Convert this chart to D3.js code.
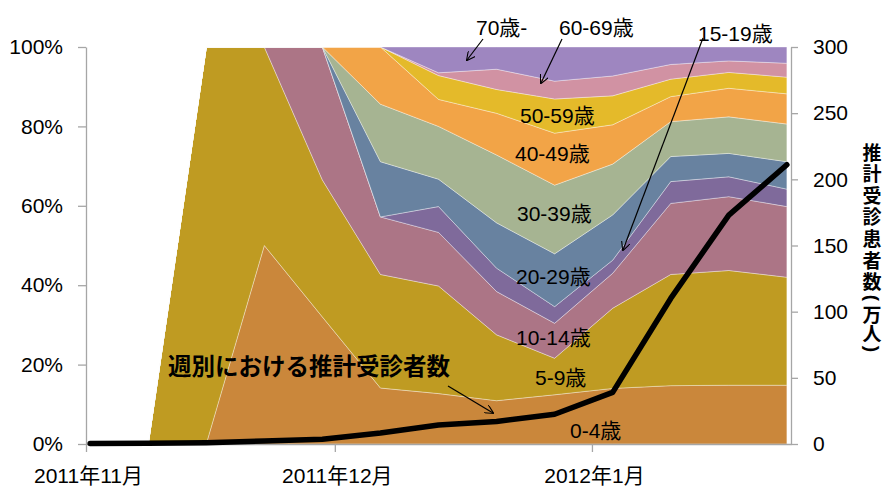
<!DOCTYPE html>
<html>
<head>
<meta charset="utf-8">
<script src="https://cdn.jsdelivr.net/npm/d3@7"></script>
<style>
body { margin: 0; background: #fff; }
svg text { font-family: 'Liberation Sans', 'Noto Sans CJK JP', sans-serif; fill: #000; }
</style>
</head>
<body>
<svg id="chart" width="884" height="489"></svg>
<script>
// 週ごとの日付 (weekly points)
var weeks = ["2011-11-01","2011-11-08","2011-11-15","2011-11-22","2011-11-29","2011-12-06",
             "2011-12-13","2011-12-20","2011-12-27","2012-01-03","2012-01-10","2012-01-17","2012-01-24"];
var ageGroups = ["0-4歳","5-9歳","10-14歳","15-19歳","20-29歳","30-39歳","40-49歳","50-59歳","60-69歳","70歳-"];
var ageColors = ["#CA873B","#BF9B22","#AC7586","#7F6A9B","#6882A0","#A6B492","#F2A447","#E4BA2A","#D192A3","#9E86C0"];

// 年齢別の割合 (%)
var age0_4   = [0,0,0,50,32,14.1,12.7,10.9,12.4,14.0,14.7,14.8,14.8];
var age5_9   = [0,0,100,50,34.5,28.6,27.1,16.6,9.2,20.2,28.0,28.9,27.2];
var age10_14 = [0,0,0,0,33.5,14.5,13.5,10.9,8.8,8.8,17.9,18.6,17.8];
var age15_19 = [0,0,0,0,0,0,6.5,5.9,4.2,3.3,5.5,5.0,4.4];
var age20_29 = [0,0,0,0,0,13.9,6.9,11.4,13.3,11.4,6.3,5.9,6.9];
var age30_39 = [0,0,0,0,0,14.5,13.3,17.1,17.3,12.8,8.8,9.2,9.5];
var age40_49 = [0,0,0,0,0,14.4,6.8,10.5,13.1,9.9,6.3,7.2,7.6];
var age50_59 = [0,0,0,0,0,0,6.0,6.0,8.6,7.3,4.4,4.0,4.2];
var age60_69 = [0,0,0,0,0,0,0.7,5.1,4.5,5.0,3.7,2.9,3.5];
var age70    = [0,0,0,0,0,0,6.5,5.6,8.6,7.3,4.4,3.5,4.1];

// 週別における推計受診者数 (万人)
var patients = [0.3,0.5,1.0,2.2,3.6,8.3,14.4,17,22.5,39,110,173,211];

var pctTicks = [0,0.2,0.4,0.6,0.8,1];
var numTicks = [0,50,100,150,200,250,300];
var monthTicks = ["2011-11-01","2011-12-01","2012-01-01"];
var rightTitle = ["推","計","受","診","患","者","数","(","万","人",")"];

var shares = [age0_4,age5_9,age10_14,age15_19,age20_29,age30_39,age40_49,age50_59,age60_69,age70];

var svg = d3.select("#chart");
var parseDay = d3.timeParse("%Y-%m-%d");
var dates = weeks.map(parseDay);

var x = d3.scaleTime().domain([new Date(2011,10,1), new Date(2012,0,25)]).range([86,791]);
var yPct = d3.scaleLinear().domain([0,1]).range([444,47]);
var yNum = d3.scaleLinear().domain([0,300]).range([444,47]);
function xMid(d) { return x(d3.timeHour.offset(d,12)); } // 日の中央に置く

var rows = dates.map(function(d,i){
  var r = {date: d};
  ageGroups.forEach(function(k,j){ r[k] = shares[j][i]; });
  return r;
});
var series = d3.stack().keys(ageGroups).offset(d3.stackOffsetExpand)(rows);

var area = d3.area()
  .x(function(d){ return xMid(d.data.date); })
  .y0(function(d){ return yPct(d[0]); })
  .y1(function(d){ return yPct(d[1]); });

svg.append("g").selectAll("path")
  .data(series)
  .enter().append("path")
  .attr("d", area)
  .attr("fill", function(d,i){ return ageColors[i]; })
  .attr("stroke", "rgba(255,255,255,0.45)")
  .attr("stroke-width", 0.8);

// axes
var axisColor = "#A6A6A6";
function styleAxis(g) {
  g.select(".domain").attr("stroke", axisColor).attr("stroke-width", 1.3);
  g.selectAll(".tick line").attr("stroke", axisColor).attr("stroke-width", 1.3);
  g.selectAll(".tick text").attr("font-size", 21).attr("font-family", null);
}

svg.append("g").attr("transform","translate(86,0)")
  .call(d3.axisLeft(yPct).tickValues(pctTicks).tickFormat(d3.format(".0%")).tickSize(8).tickSizeOuter(0).tickPadding(15))
  .call(styleAxis);

svg.append("g").attr("transform","translate(791,0)")
  .call(d3.axisRight(yNum).tickValues(numTicks).tickSize(7).tickSizeOuter(0).tickPadding(15))
  .call(styleAxis);

var fmtMonth = function(d){ return d.getFullYear() + "年" + (d.getMonth()+1) + "月"; };
var gx = svg.append("g").attr("transform","translate(0,444)")
  .call(d3.axisBottom(x).tickValues(monthTicks.map(parseDay)).tickFormat(fmtMonth).tickSize(8).tickSizeOuter(0))
  .call(styleAxis);
gx.selectAll(".tick text").attr("y", 39).attr("dy", 0).attr("dx", 2);

// 推計受診者数の線
var line = d3.line()
  .x(function(d,i){ return xMid(dates[i]); })
  .y(function(d){ return yNum(d); });
svg.append("path")
  .datum(patients)
  .attr("d", line)
  .attr("fill", "none")
  .attr("stroke", "#000")
  .attr("stroke-width", 5.5)
  .attr("stroke-linecap", "round")
  .attr("stroke-linejoin", "round");

// right axis title, one char per row (括弧は回転)
var titleY = [153,174,196,217,239,261,282,298,315,334,349];
rightTitle.forEach(function(ch,i){
  var paren = (ch == "(" || ch == ")");
  var t = svg.append("text")
    .attr("x", 872).attr("y", titleY[i])
    .attr("text-anchor","middle")
    .attr("dominant-baseline","central")
    .attr("font-family", paren ? "'Liberation Sans', sans-serif" : "'Noto Sans CJK JP', sans-serif")
    .attr("font-size", 19).attr("font-weight","bold")
    .text(ch);
  if (paren) t.attr("transform","rotate(90,872," + titleY[i] + ")");
});

// annotations
var defs = svg.append("defs");
defs.append("marker").attr("id","arr")
  .attr("viewBox","0 0 10 10").attr("refX",9).attr("refY",5)
  .attr("markerWidth",9).attr("markerHeight",9).attr("markerUnits","userSpaceOnUse")
  .attr("orient","auto")
  .append("path").attr("d","M0,0L10,5L0,10").attr("fill","none").attr("stroke","#000").attr("stroke-width",1.2);

var labelText = ["70歳-","60-69歳","15-19歳","50-59歳","40-49歳","30-39歳","20-29歳","10-14歳","5-9歳","0-4歳"];
var labelX = [476,559,698,520,515,517,516,516,535,570];
var labelY = [35,35,41,123,161,221,284,345,385,438];
labelText.forEach(function(s,i){
  svg.append("text").attr("x",labelX[i]).attr("y",labelY[i]).attr("font-size",21).text(s);
});

svg.append("text").attr("x",168).attr("y",375)
  .attr("font-size",23.5).attr("font-weight","bold")
  .attr("font-family","'Noto Sans CJK JP', sans-serif")
  .text("週別における推計受診者数");

var arrows = [[483,39,467,60],[562,39,541,83],[703,38,623,250],[448,386,493,413]];
svg.append("g").selectAll("line").data(arrows).enter().append("line")
  .attr("x1",function(d){return d[0];}).attr("y1",function(d){return d[1];})
  .attr("x2",function(d){return d[2];}).attr("y2",function(d){return d[3];})
  .attr("stroke","#000").attr("stroke-width",1.2)
  .attr("marker-end","url(#arr)");
</script>
</body>
</html>
